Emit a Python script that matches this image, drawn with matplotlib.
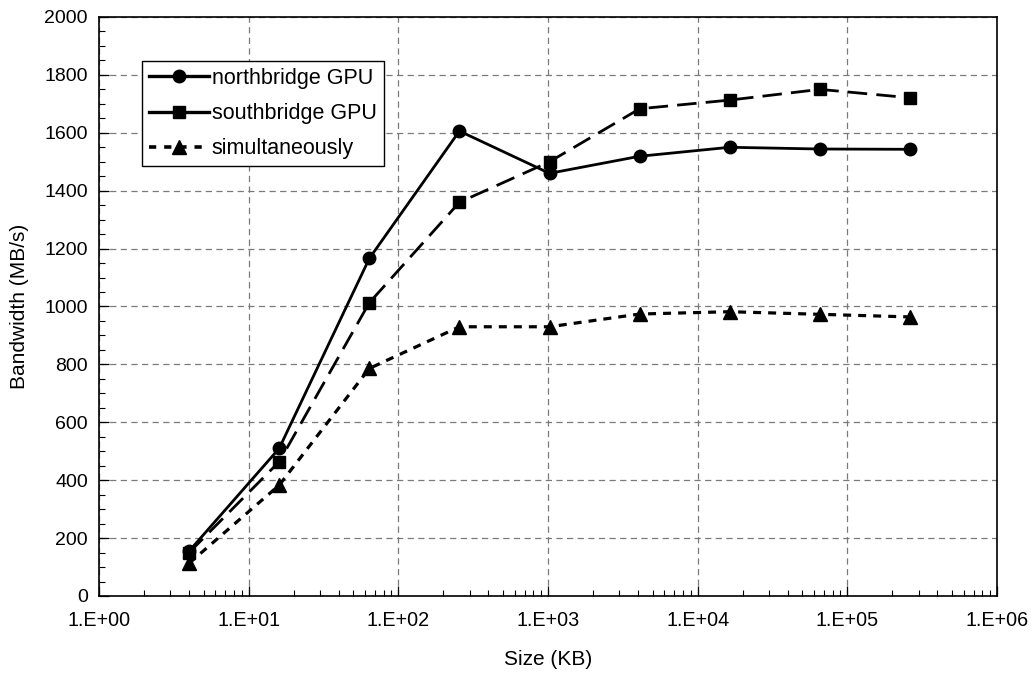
import matplotlib
matplotlib.use("Agg")
import matplotlib.pyplot as plt
from matplotlib.lines import Line2D
from matplotlib.ticker import FixedLocator, LogLocator, MultipleLocator, NullFormatter

plt.rcParams["font.family"] = ["Liberation Sans", "DejaVu Sans"]

# Transfer sizes (KB) and measured bandwidth (MB/s)
sizes_kb = [4, 16, 64, 256, 1024, 4096, 16384, 65536, 262144]
northbridge = [155, 510, 1166, 1606, 1460, 1519, 1550, 1544, 1543]
southbridge = [150, 464, 1013, 1360, 1500, 1683, 1713, 1750, 1721]
simultaneous = [113, 383, 786, 930, 930, 974, 982, 973, 964]

series_labels = ["northbridge GPU", "southbridge GPU", "simultaneously"]

# Decade ticks on the size axis and their labels
decade_exponents = [0, 1, 2, 3, 4, 5, 6]
decade_labels = ["1.E+%02d" % e for e in decade_exponents]

fig = plt.figure(figsize=(10.35, 6.73), dpi=100)
ax = fig.add_axes([99 / 1035, 77 / 673, 898 / 1035, 579 / 673])

lw = 2.0
ax.plot(sizes_kb, northbridge, color="black", lw=lw, marker="o", ms=9,
        zorder=5)
ax.plot(sizes_kb, southbridge, color="black", lw=lw, marker="s", ms=8.5,
        dashes=(7, 3.3), zorder=5)
ax.plot(sizes_kb, simultaneous, color="black", lw=2.3, marker="^", ms=9.5,
        dashes=(2.5, 2.2), zorder=5)

ax.set_xscale("log")
ax.set_xlim(1, 1e6)
ax.set_ylim(0, 2000)

ax.xaxis.set_major_locator(FixedLocator([10.0 ** e for e in decade_exponents]))
ax.set_xticklabels(decade_labels)
ax.xaxis.set_minor_locator(LogLocator(base=10, subs=range(2, 10), numticks=20))
ax.xaxis.set_minor_formatter(NullFormatter())
ax.yaxis.set_major_locator(MultipleLocator(200))
ax.yaxis.set_minor_locator(MultipleLocator(50))

ax.tick_params(axis="both", which="major", direction="in", length=7, width=0.9,
               color="black")
ax.tick_params(axis="both", which="minor", direction="in", length=4, width=0.8)
ax.tick_params(axis="x", which="major", pad=11, labelsize=14.2)
ax.tick_params(axis="y", which="major", pad=8, labelsize=14)

ax.grid(True, which="major", color="#7a7a7a", lw=0.9, dashes=(5, 3.5))
ax.set_axisbelow(True)
for s in ax.spines.values():
    s.set_linewidth(1.2)
    s.set_color("black")

ax.set_xlabel("Size (KB)", fontsize=15, labelpad=14)
ax.set_ylabel("Bandwidth (MB/s)", fontsize=15, labelpad=11)

handles = [
    Line2D([], [], color="black", lw=2.4, marker="o", ms=9),
    Line2D([], [], color="black", lw=2.4, marker="s", ms=8.5),
    Line2D([], [], color="black", lw=2.6, marker="^", ms=9.5, dashes=(2, 2.2)),
]
leg = ax.legend(handles, series_labels, loc="upper left",
                bbox_to_anchor=(0.048, 0.924), borderaxespad=0,
                fontsize=15.5, handlelength=2.8, handletextpad=0.12,
                labelspacing=0.66, borderpad=0.32, fancybox=False,
                framealpha=1, edgecolor="black")
leg.get_frame().set_linewidth(1.0)

fig.savefig("out.png", dpi=100)
